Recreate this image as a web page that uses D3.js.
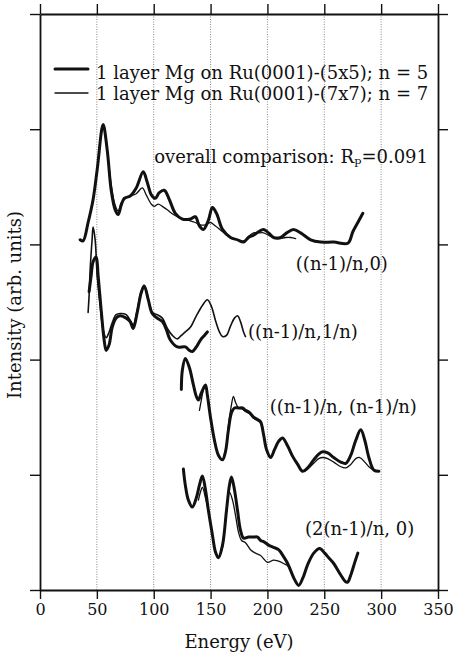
<!DOCTYPE html>
<html lang="en">

<head>
  <meta charset="utf-8">
  <title>Mg on Ru(0001) LEED I(V)</title>
  <script src="https://d3js.org/d3.v7.min.js"></script>
</head>

<body style="margin:0;background:#fff">
  <div id="chart"></div>

  <style>
    #chart text {
      font-family: "DejaVu Serif", "Liberation Serif", serif;
      fill: #111;
    }
    #chart .axis path, #chart .axis line {
      stroke: #111;
      stroke-width: 1.4;
    }
    #chart .grid {
      stroke: #888;
      stroke-width: 1;
      stroke-dasharray: 1,1.5;
    }
    #chart .curve {
      fill: none;
      stroke: #111;
      stroke-linejoin: round;
      stroke-linecap: round;
    }
  </style>

  <script type="text/javascript">
    "use strict"

    // tick values
    var energyTicks = [0, 50, 100, 150, 200, 250, 300, 350];
    var intensityTicks = [0, 1, 2, 3, 4, 5];

    // [energy (eV), intensity (arb.)]
    // beam ((n-1)/n,0)
    var beam10_n5 = [[35.3,3.04],[37.9,3.03],[42.3,3.19],[46.7,3.39],[50.3,3.65],[55.5,4.04],[59.1,3.82],[62.6,3.47],
      [66.1,3.30],[68.8,3.26],[71.4,3.34],[74.1,3.40],[79.3,3.42],[84.6,3.49],[90.8,3.63],[94.3,3.54],[97.9,3.43],
      [101.4,3.40],[104.9,3.45],[109.3,3.47],[113.7,3.39],[119.0,3.27],[125.2,3.22],[132.2,3.22],[136.6,3.24],
      [140.2,3.16],[143.7,3.13],[148.1,3.21],[151.6,3.32],[155.2,3.27],[160.5,3.13],[167.5,3.06],[173.7,3.04],
      [179.0,3.02],[183.4,3.06],[187.8,3.08],[192.2,3.11],[196.6,3.13],[201.0,3.10],[205.4,3.06],[211.6,3.06],
      [216.9,3.10],[223.0,3.13],[229.2,3.10],[238.0,3.04],[246.8,3.02],[258.3,3.02],[270.7,3.01],[275.1,3.11],
      [279.5,3.19],[283.9,3.27]];
    var beam10_n7 = [[35.3,3.04],[37.9,3.03],[42.3,3.19],[46.7,3.39],[50.3,3.65],[55.5,4.02],[59.1,3.82],[62.6,3.52],
      [66.1,3.34],[68.8,3.29],[71.4,3.36],[74.1,3.39],[79.3,3.42],[84.6,3.44],[89.9,3.49],[93.4,3.43],[97.9,3.35],
      [100.5,3.33],[104.0,3.35],[107.6,3.33],[112.0,3.30],[117.3,3.26],[123.4,3.23],[130.5,3.21],[136.6,3.19],
      [141.1,3.17],[145.5,3.17],[149.9,3.19],[154.3,3.16],[160.5,3.11],[167.5,3.06],[173.7,3.04],[179.0,3.03],
      [183.4,3.07],[187.8,3.10],[192.2,3.10],[196.6,3.10],[202.8,3.07],[208.9,3.05],[216.0,3.06],[220.4,3.06],
      [224.8,3.05]];

    // beam ((n-1)/n,1/n)
    var beam11_n5 = [[43.2,2.59],[45.0,2.73],[46.7,2.85],[49.4,2.89],[51.1,2.73],[53.8,2.43],[56.4,2.17],[58.2,2.08],
      [60.8,2.13],[63.5,2.28],[67.0,2.36],[70.5,2.38],[75.8,2.36],[79.3,2.33],[82.0,2.27],[85.5,2.41],[89.0,2.58],
      [91.7,2.64],[95.2,2.52],[98.7,2.40],[103.1,2.36],[107.6,2.33],[111.1,2.26],[114.6,2.17],[120.8,2.11],
      [127.8,2.11],[131.4,2.08],[134.0,2.07],[137.5,2.11],[141.1,2.17],[144.6,2.21],[147.2,2.24]];
    var beam11_n7 = [[42.3,2.41],[43.2,2.56],[44.1,2.78],[45.8,3.04],[46.7,3.15],[48.5,3.04],[50.3,2.73],[52.9,2.47],
      [55.5,2.26],[58.2,2.19],[60.8,2.24],[63.5,2.32],[67.0,2.39],[70.5,2.40],[75.8,2.39],[79.3,2.34],[82.0,2.30],
      [85.5,2.43],[89.0,2.59],[91.7,2.64],[95.2,2.53],[98.7,2.41],[103.1,2.39],[107.6,2.36],[112.0,2.27],
      [116.4,2.21],[120.8,2.18],[124.3,2.21],[127.8,2.24],[132.2,2.28],[137.5,2.38],[142.8,2.47],[147.2,2.52],
      [150.8,2.46],[154.3,2.34],[157.8,2.24],[160.5,2.20],[164.0,2.21],[167.5,2.29],[171.0,2.36],[173.7,2.38],
      [176.3,2.33],[179.0,2.24],[180.7,2.20]];

    // beam ((n-1)/n,(n-1)/n)
    var beam12_n5 = [[124.3,1.74],[125.2,1.91],[127.8,2.01],[131.4,1.93],[134.9,1.78],[137.5,1.68],[139.3,1.65],
      [141.9,1.71],[145.5,1.78],[147.2,1.69],[149.9,1.50],[153.4,1.30],[156.9,1.17],[160.5,1.13],[163.1,1.20],
      [165.7,1.39],[168.4,1.54],[171.0,1.58],[174.6,1.58],[178.1,1.58],[180.7,1.56],[184.3,1.54],[187.8,1.50],
      [191.3,1.48],[194.0,1.46],[196.6,1.35],[199.2,1.22],[202.8,1.15],[206.3,1.22],[209.8,1.29],[213.3,1.32],
      [217.8,1.25],[222.2,1.16],[226.6,1.09],[231.0,1.03],[235.4,1.06],[240.7,1.13],[245.1,1.18],[248.6,1.20],
      [253.0,1.19],[258.3,1.15],[264.5,1.11],[268.9,1.10],[273.3,1.17],[277.7,1.30],[282.1,1.39],[285.6,1.30],
      [289.2,1.15],[293.6,1.04],[298.0,1.03]];
    var beam12_n7 = [[140.2,1.56],[141.9,1.65],[143.7,1.74],[145.5,1.78],[147.2,1.69],[149.9,1.50],[153.4,1.30],
      [156.9,1.17],[160.5,1.13],[163.1,1.20],[165.7,1.43],[168.4,1.61],[170.1,1.68],[171.9,1.63],[174.6,1.58],
      [178.1,1.57],[180.7,1.55],[184.3,1.53],[187.8,1.49],[191.3,1.47],[194.0,1.45],[196.6,1.34],[199.2,1.22],
      [202.8,1.15],[206.3,1.22],[209.8,1.29],[213.3,1.32],[217.8,1.25],[222.2,1.16],[226.6,1.09],[231.0,1.03],
      [235.4,1.05],[240.7,1.10],[245.1,1.14],[248.6,1.15],[253.0,1.14],[258.3,1.11],[264.5,1.07],[268.9,1.06],
      [273.3,1.09],[277.7,1.14],[281.2,1.15],[285.6,1.11],[289.2,1.07],[293.6,1.04],[298.0,1.03]];

    // beam (2(n-1)/n,0)
    var beam20_n5 = [[126.1,1.05],[127.8,0.91],[130.5,0.78],[134.0,0.72],[137.5,0.80],[140.2,0.91],[142.8,0.99],
      [145.5,0.87],[148.1,0.69],[151.6,0.48],[154.3,0.33],[156.9,0.28],[160.5,0.39],[164.0,0.69],[166.6,0.91],
      [168.4,0.98],[171.0,0.87],[173.7,0.69],[176.3,0.52],[179.0,0.45],[183.4,0.46],[187.8,0.46],[191.3,0.46],
      [194.0,0.43],[196.6,0.42],[201.0,0.39],[205.4,0.37],[209.8,0.35],[214.2,0.29],[217.8,0.23],[220.4,0.17],
      [223.9,0.09],[227.5,0.04],[231.0,0.10],[235.4,0.22],[240.7,0.32],[246.0,0.36],[250.4,0.32],[253.9,0.28],
      [258.3,0.23],[264.5,0.13],[268.9,0.07],[270.7,0.07],[273.3,0.13],[276.8,0.24],[279.5,0.32]];
    var beam20_n7 = [[139.3,0.78],[141.1,0.85],[142.8,0.89],[145.5,0.80],[148.1,0.68],[151.6,0.48],[154.3,0.33],
      [156.9,0.28],[160.5,0.37],[163.1,0.61],[166.6,0.85],[169.3,0.78],[171.9,0.65],[174.6,0.50],[177.2,0.43],
      [180.7,0.41],[185.1,0.35],[189.5,0.32],[194.0,0.30],[200.1,0.24],[205.4,0.26],[209.8,0.25],[214.2,0.23],
      [217.8,0.21],[220.4,0.17]];

    var legendLabels = ["1 layer Mg on Ru(0001)-(5x5); n = 5", "1 layer Mg on Ru(0001)-(7x7); n = 7"];

    function drawChart() {
      var width = 453, height = 658;
      var margin = {top: 14, right: 15, bottom: 68, left: 40};
      var widthViz = width - margin.left - margin.right;
      var heightViz = height - margin.top - margin.bottom;

      var svg = d3.select('#chart')
        .append('svg')
          .attr('width', width)
          .attr('height', height);
      var g = svg.append('g')
          .attr('transform', 'translate(' + margin.left + ',' + margin.top + ')');

      var x = d3.scaleLinear().domain([0, 350]).range([0, widthViz]);
      var y = d3.scaleLinear().domain([0, 5]).range([heightViz, 0]);

      // dotted vertical grid
      g.selectAll('line.grid')
        .data(energyTicks.slice(1, -1))
        .enter().append('line')
          .attr('class', 'grid')
          .attr('x1', d => x(d)).attr('x2', d => x(d))
          .attr('y1', 0).attr('y2', heightViz);

      // frame + ticks, all outward
      var bottom = g.append('g').attr('class', 'axis')
        .attr('transform', 'translate(0,' + heightViz + ')')
        .call(d3.axisBottom(x).tickValues(energyTicks).tickSize(9).tickSizeOuter(0).tickPadding(5));
      bottom.attr('font-family', null);
      bottom.selectAll('text')
        .style('font-size', '16px')
        .attr('fill', '#111');

      g.append('g').attr('class', 'axis')
        .call(d3.axisTop(x).tickValues(energyTicks).tickSize(10).tickSizeOuter(0).tickFormat(''));
      g.append('g').attr('class', 'axis')
        .call(d3.axisLeft(y).tickValues(intensityTicks).tickSize(10).tickSizeOuter(0).tickFormat(''));
      g.append('g').attr('class', 'axis')
        .attr('transform', 'translate(' + widthViz + ',0)')
        .call(d3.axisRight(y).tickValues(intensityTicks).tickSize(10).tickSizeOuter(0).tickFormat(''));
      g.selectAll('.axis .domain').style('stroke-width', 1.8);

      // curves
      var line = d3.line()
        .x(d => x(d[0]))
        .y(d => y(d[1]))
        .curve(d3.curveCatmullRom.alpha(0.5));

      var curves = [
        {data: beam10_n7, w: 1.3}, {data: beam10_n5, w: 3},
        {data: beam11_n7, w: 1.6}, {data: beam11_n5, w: 3},
        {data: beam12_n7, w: 1.3}, {data: beam12_n5, w: 3},
        {data: beam20_n7, w: 1.3}, {data: beam20_n5, w: 3}
      ];
      g.selectAll('path.curve')
        .data(curves)
        .enter().append('path')
          .attr('class', 'curve')
          .attr('stroke-width', d => d.w)
          .attr('d', d => line(d.data));

      // legend
      var legend = g.append('g').attr('transform', 'translate(15,55)');
      legendLabels.forEach(function (txt, i) {
        legend.append('line')
          .attr('class', 'curve')
          .attr('x1', 0).attr('x2', 33)
          .attr('y1', i * 24).attr('y2', i * 24)
          .attr('stroke-width', i === 0 ? 3 : 1.3);
        legend.append('text')
          .attr('x', 41).attr('y', i * 21 + 10)
          .style('font-size', '18px')
          .text(txt);
      });

      var rp = g.append('text')
        .attr('x', 388).attr('y', 149)
        .attr('text-anchor', 'end')
        .style('font-size', '18px');
      rp.append('tspan').text('overall comparison: R');
      rp.append('tspan').attr('dy', 4).style('font-size', '11px').text('P');
      rp.append('tspan').attr('dy', -4).text('=0.091');

      // beam labels
      var beamLabels = [
        {t: '((n-1)/n,0)', e: 225, v: 2.78},
        {t: '((n-1)/n,1/n)', e: 183, v: 2.19},
        {t: '((n-1)/n, (n-1)/n)', e: 202, v: 1.54},
        {t: '(2(n-1)/n, 0)', e: 233, v: 0.48}
      ];
      g.selectAll('text.beam')
        .data(beamLabels)
        .enter().append('text')
          .attr('class', 'beam')
          .attr('x', d => x(d.e))
          .attr('y', d => y(d.v))
          .style('font-size', '18px')
          .text(d => d.t);

      // axis titles
      g.append('text')
        .attr('transform', 'translate(' + widthViz / 2 + ',' + (heightViz + 58) + ')')
        .attr('text-anchor', 'middle')
        .style('font-size', '18px')
        .text('Energy (eV)');
      g.append('text')
        .attr('transform', 'translate(-19,291) rotate(-90)')
        .attr('text-anchor', 'middle')
        .style('font-size', '18px')
        .text('Intensity (arb. units)');
    }

    drawChart();
  </script>
</body>

</html>
